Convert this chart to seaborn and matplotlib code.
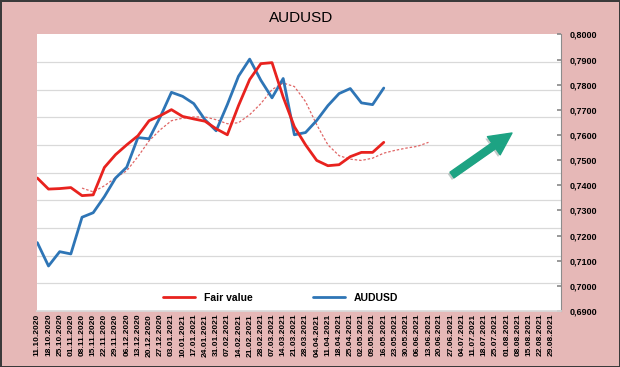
import numpy as np
import pandas as pd
import matplotlib
matplotlib.use("Agg")
import matplotlib.pyplot as plt
import seaborn as sns
from matplotlib.patches import FancyArrowPatch
from matplotlib.ticker import FixedLocator, FuncFormatter
import matplotlib.patheffects as pe

# weekly categories on the x axis
dates = [
    "11.10.2020", "18.10.2020", "25.10.2020", "01.11.2020", "08.11.2020", "15.11.2020",
    "22.11.2020", "29.11.2020", "06.12.2020", "13.12.2020", "20.12.2020", "27.12.2020",
    "03.01.2021", "10.01.2021", "17.01.2021", "24.01.2021", "31.01.2021", "07.02.2021",
    "14.02.2021", "21.02.2021", "28.02.2021", "07.03.2021", "14.03.2021", "21.03.2021",
    "28.03.2021", "04.04.2021", "11.04.2021", "18.04.2021", "25.04.2021", "02.05.2021",
    "09.05.2021", "16.05.2021", "23.05.2021", "30.05.2021", "06.06.2021", "13.06.2021",
    "20.06.2021", "27.06.2021", "04.07.2021", "11.07.2021", "18.07.2021", "25.07.2021",
    "01.08.2021", "08.08.2021", "15.08.2021", "22.08.2021", "29.08.2021",
]

fair_value = [
    0.7429, 0.7385, 0.7387, 0.7391, 0.7359, 0.7362, 0.7471, 0.7522, 0.7561, 0.7597,
    0.7657, 0.7677, 0.7701, 0.7674, 0.7664, 0.7655, 0.7625, 0.7601, 0.7717, 0.7821,
    0.7884, 0.7888, 0.7751, 0.7633, 0.7561, 0.7499, 0.7478, 0.7482, 0.7514, 0.7531,
    0.7531, 0.7571,
]

audusd = [
    0.7172, 0.7079, 0.7136, 0.7127, 0.7273, 0.7291, 0.7355, 0.7429, 0.7472, 0.7590,
    0.7585, 0.7672, 0.7770, 0.7754, 0.7725, 0.7661, 0.7617, 0.7721, 0.7834, 0.7902,
    0.7818, 0.7748, 0.7825, 0.7601, 0.7610, 0.7658, 0.7717, 0.7765, 0.7785, 0.7728,
    0.7721, 0.7787,
]

# dotted smoothed fair value, starts at the 5th week
ma_start = 4
fair_ma = [
    0.7389, 0.7374, 0.7398, 0.7430, 0.7458, 0.7514, 0.7577, 0.7621, 0.7657, 0.7667,
    0.7672, 0.7672, 0.7661, 0.7645, 0.7649, 0.7681, 0.7725, 0.7781, 0.7807, 0.7793,
    0.7733, 0.7641, 0.7561, 0.7518, 0.7504, 0.7499, 0.7508, 0.7528, 0.7539, 0.7548,
    0.7555, 0.7571,
]

y_min, y_max = 0.69, 0.80

sns.set_theme(style="white")
plt.rcParams['font.family'] = ['Liberation Sans', 'DejaVu Sans']
plt.rcParams['text.color'] = 'black'
plt.rcParams['xtick.color'] = 'black'
plt.rcParams['ytick.color'] = 'black'

bg = '#E6B8B7'
fig = plt.figure(figsize=(6.2, 3.67), dpi=100, facecolor=bg)
fig.patch.set_edgecolor('#3a3a3a')
fig.patch.set_linewidth(2)
ax = fig.add_axes([0.0602, 0.1526, 0.8454, 0.7534])
ax.set_facecolor('white')

week = np.arange(len(dates))
df = pd.DataFrame({'week': week[:len(fair_value)], 'Fair value': fair_value, 'AUDUSD': audusd})
df_ma = pd.DataFrame({'week': week[ma_start:ma_start + len(fair_ma)], 'ma': fair_ma})

sns.lineplot(data=df_ma, x='week', y='ma', ax=ax, color='#E06666', lw=0.9,
             linestyle=(0, (2, 1.5)), label='_nolegend_')
sns.lineplot(data=df, x='week', y='AUDUSD', ax=ax, color='#2E75B6', lw=2, label='AUDUSD')
sns.lineplot(data=df, x='week', y='Fair value', ax=ax, color='#E8221E', lw=2, label='Fair value')

ax.set_xlim(0, 46.9)
ax.set_ylim(y_min, y_max)

# right-hand value axis
ax.yaxis.tick_right()
ax.yaxis.set_major_locator(FixedLocator(np.arange(y_min, y_max + 0.0001, 0.01)))
ax.yaxis.set_major_formatter(FuncFormatter(lambda v, p: f"{v:.4f}".replace('.', ',')))
# gridlines come from a hidden primary axis split into 10 steps
ax.yaxis.set_minor_locator(FixedLocator(np.linspace(y_min, y_max, 11)[1:-1]))
ax.grid(which='minor', axis='y', color='#D9D9D9', lw=0.9)
ax.grid(which='major', visible=False)
ax.tick_params(axis='y', which='major', direction='in', length=3, color='#8c8c8c',
               labelcolor='black', pad=6, labelsize=6.5, right=True, left=False)
ax.tick_params(axis='y', which='minor', length=0)
for t in ax.get_yticklabels():
    t.set_fontweight('bold')

ax.set_xticks(week)
ax.set_xticklabels(dates, rotation=90, fontsize=6, fontweight='bold', color='black')
ax.tick_params(axis='x', length=0, pad=2)

ax.set_xlabel('')
ax.set_ylabel('')
for s in ['top', 'left']:
    ax.spines[s].set_visible(False)
ax.spines['right'].set_color('#8c8c8c')
ax.spines['right'].set_linewidth(0.8)
ax.spines['bottom'].set_color('#D9D9D9')

handles, labels = ax.get_legend_handles_labels()
order = [labels.index('Fair value'), labels.index('AUDUSD')]
ax.legend([handles[i] for i in order], [labels[i] for i in order],
          loc='center', bbox_to_anchor=(280.5 / 620, 1 - 298 / 367),
          bbox_transform=fig.transFigure, ncol=2, frameon=False,
          prop={'weight': 'bold', 'size': 7.5}, handlelength=3.1,
          handletextpad=0.8, columnspacing=5.8, labelcolor='black')

fig.text(301.5 / 620, 1 - 17.5 / 367, 'AUDUSD', ha='center', va='center', fontsize=11,
         color='black', family=['Liberation Sans Narrow', 'Liberation Sans', 'DejaVu Sans'])

arrow = FancyArrowPatch((452 / 620, 1 - 175 / 367), (512 / 620, 1 - 133 / 367),
                        transform=fig.transFigure, mutation_scale=1,
                        arrowstyle='simple,head_length=16,head_width=16,tail_width=5',
                        color='#1DA383', shrinkA=0, shrinkB=0, zorder=5,
                        path_effects=[pe.SimplePatchShadow(offset=(-1.5, -1.5), alpha=0.25),
                                      pe.Normal()])
fig.add_artist(arrow)

fig.savefig('out.png', dpi=100, facecolor=bg, edgecolor=fig.patch.get_edgecolor())
